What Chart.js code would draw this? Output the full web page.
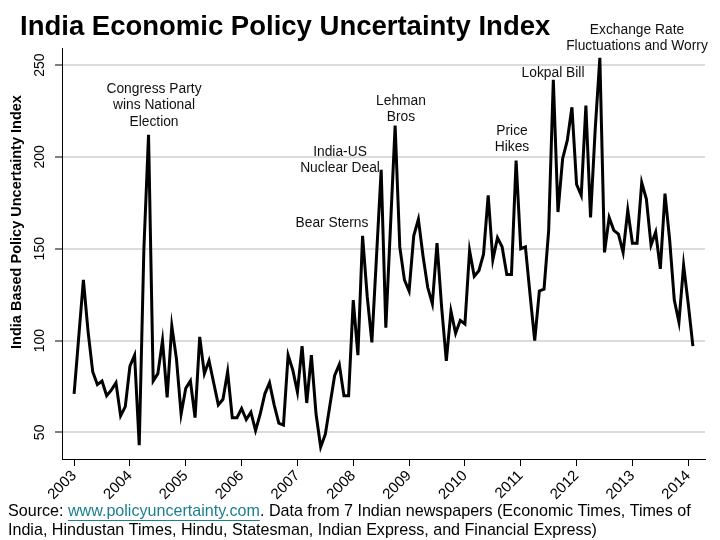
<!DOCTYPE html>
<html lang="en">
<head>
<meta charset="UTF-8">
<title>India Economic Policy Uncertainty Index</title>
<script src="https://cdn.jsdelivr.net/npm/chart.js@4"></script>
<style>
  html, body { margin: 0; padding: 0; background: #fff; }
</style>
</head>
<body>
<canvas id="epuChart" width="720" height="540"></canvas>

<script>
  // monthly index, Jan 2003 .. Feb 2014
  const startYear = 2003;
  const yearLabels = ['2003', '2004', '2005', '2006', '2007', '2008', '2009', '2010', '2011', '2012', '2013', '2014'];
  const yTicks = [50, 100, 150, 200, 250];
  const epu = [
    71, 102, 133, 105, 83, 76, 78, 70, 73, 77, 59, 64,
    86, 92, 43, 150, 212, 78, 82, 100, 69, 108, 90, 60,
    74, 78, 58, 102, 82, 89, 77, 65, 68, 83, 58, 58,
    63, 57, 61, 51, 60, 71, 77, 65, 55, 54, 92, 84,
    72, 97, 66, 92, 60, 42, 49, 65, 81, 87, 70, 70,
    122, 92, 157, 124, 99, 146, 193, 107, 162, 217, 151, 133,
    127, 157, 166, 146, 129, 120, 153, 118, 89, 116, 104, 111,
    109, 149, 135, 138, 147, 179, 144, 156, 151, 136, 136, 198,
    150, 151, 125, 100, 127, 128, 160, 242, 170, 199, 209, 227,
    185, 179, 228, 167, 215, 254, 148, 167, 160, 158, 148, 171,
    153, 153, 186, 177, 152, 159, 139, 180, 155, 122, 110, 141,
    120, 97
  ];

  const FONT = "'Liberation Sans', Arial, Helvetica, sans-serif";

  // event labels (pixel centres)
  const notes = [
    { lines: ['Congress Party', 'wins National', 'Election'], x: 154, y: 89 },
    { lines: ['Lehman', 'Bros'], x: 401, y: 101 },
    { lines: ['India-US', 'Nuclear Deal'], x: 340, y: 152 },
    { lines: ['Bear Sterns'], x: 332, y: 223 },
    { lines: ['Price', 'Hikes'], x: 512, y: 131 },
    { lines: ['Lokpal Bill'], x: 553, y: 73 },
    { lines: ['Exchange Rate', 'Fluctuations and Worry'], x: 637, y: 30 }
  ];

  const textPlugin = {
    id: 'textPlugin',
    afterDraw(chart) {
      const ctx = chart.ctx;
      const yScale = chart.scales.y;
      ctx.save();
      ctx.fillStyle = '#000';

      // title
      ctx.font = 'bold 27.5px ' + FONT;
      ctx.textAlign = 'left';
      ctx.textBaseline = 'alphabetic';
      ctx.fillText('India Economic Policy Uncertainty Index', 20, 35);

      // y tick labels, rotated
      ctx.font = '14px ' + FONT;
      yTicks.forEach(v => {
        const py = yScale.getPixelForValue(v);
        ctx.save();
        ctx.translate(40, py);
        ctx.rotate(-Math.PI / 2);
        ctx.textAlign = 'center';
        ctx.textBaseline = 'middle';
        ctx.fillText(String(v), 0, 0);
        ctx.restore();
      });

      // y axis title
      ctx.save();
      ctx.translate(17, 222);
      ctx.rotate(-Math.PI / 2);
      ctx.font = 'bold 14.5px ' + FONT;
      ctx.textAlign = 'center';
      ctx.textBaseline = 'middle';
      ctx.fillText('India Based Policy Uncertainty Index', 0, 0);
      ctx.restore();

      // notes
      ctx.font = '13.8px ' + FONT;
      ctx.textAlign = 'center';
      ctx.textBaseline = 'middle';
      ctx.fillStyle = '#111';
      notes.forEach(n => {
        n.lines.forEach((t, i) => ctx.fillText(t, n.x, n.y + i * 16.5));
      });

      // source
      ctx.font = '16.1px ' + FONT;
      ctx.textAlign = 'left';
      ctx.textBaseline = 'middle';
      let x = 8;
      const y1 = 512;
      ctx.fillStyle = '#000';
      ctx.fillText('Source: ', x, y1);
      x += ctx.measureText('Source: ').width;
      const url = 'www.policyuncertainty.com';
      const uw = ctx.measureText(url).width;
      ctx.fillStyle = '#1a7f8e';
      ctx.fillText(url, x, y1);
      ctx.fillRect(x, y1 + 8, uw, 1);
      x += uw;
      ctx.fillStyle = '#000';
      ctx.fillText('. Data from 7 Indian newspapers (Economic Times, Times of', x, y1);
      ctx.fillText('India, Hindustan Times, Hindu, Statesman, Indian Express, and Financial Express)', 8, 531);
      ctx.restore();
    }
  };

  const ctx = document.getElementById('epuChart').getContext('2d');
  const chart = new Chart(ctx, {
    type: 'line',
    data: {
      datasets: [{
        label: 'India EPU',
        data: epu.map((v, i) => ({ x: i, y: v })),
        borderColor: '#000',
        borderWidth: 3,
        pointRadius: 0,
        tension: 0,
        fill: false
      }]
    },
    options: {
      responsive: false,
      animation: false,
      devicePixelRatio: 1,
      layout: { padding: { left: 0, right: 15, top: 48, bottom: 0 } },
      plugins: {
        legend: { display: false },
        title: { display: false },
        tooltip: { enabled: false }
      },
      scales: {
        x: {
          type: 'linear',
          min: -2.6,
          max: 135.6,
          afterBuildTicks: s => { s.ticks = yearLabels.map((_, i) => ({ value: i * 12 })); },
          afterFit: s => { s.height = 81; },
          ticks: {
            callback: (v, i) => yearLabels[i],
            minRotation: 45,
            maxRotation: 45,
            autoSkip: false,
            padding: 1,
            color: '#000',
            font: { family: FONT, size: 15 }
          },
          grid: { drawOnChartArea: false, tickLength: 7, tickColor: '#000', tickWidth: 1 },
          border: { color: '#000', width: 1 }
        },
        y: {
          min: 35.5,
          max: 259.3,
          afterBuildTicks: s => { s.ticks = yTicks.map(v => ({ value: v })); },
          afterFit: s => { s.width = 62; },
          ticks: { display: false },
          grid: { color: '#dcdcdc', lineWidth: 2, tickLength: 7, tickColor: '#000', tickWidth: 1 },
          border: { color: '#000', width: 1 }
        }
      }
    },
    plugins: [textPlugin]
  });
</script>
</body>
</html>
